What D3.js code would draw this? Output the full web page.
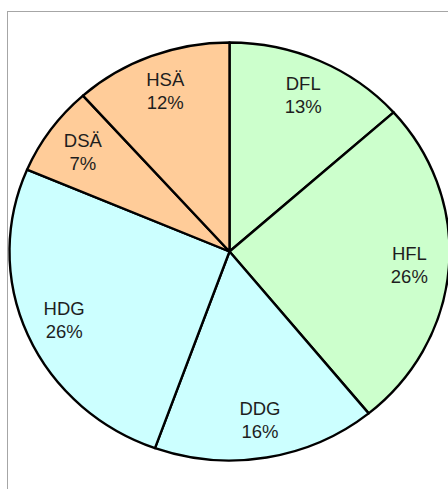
<!DOCTYPE html>
<html>
<head>
<meta charset="utf-8">
<script src="https://cdn.jsdelivr.net/npm/d3@7"></script>
<style>
  html, body { margin: 0; padding: 0; background: #ffffff; }
  svg { display: block; }
</style>
</head>
<body>
<svg id="chart" width="448" height="489"></svg>
<script>
const categories = ["DFL", "HFL", "DDG", "HDG", "DSÄ", "HSÄ"];
const values = [13.4, 25.7, 16.4, 25.9, 7.0, 11.6];
const labels = ["13%", "26%", "16%", "26%", "7%", "12%"];
const sliceColors = ["#ccffcc", "#ccffcc", "#ccffff", "#ccffff", "#ffcc99", "#ffcc99"];

const W = 448, H = 489;
const cx = 229.5, cy = 251.5;
const R = 209;          // vertical radius
const sx = 220 / 209;   // horizontal stretch (chart is slightly elliptical)

const svg = d3.select("#chart");

// frame
svg.append("rect")
  .attr("x", 7.5).attr("y", 11.5)
  .attr("width", W + 20).attr("height", H + 20)
  .attr("fill", "#ffffff")
  .attr("stroke", "#a6a6a6")
  .attr("stroke-width", 1);

const data = categories.map((c, i) => ({ cat: c, value: values[i], label: labels[i], color: sliceColors[i] }));

const pie = d3.pie().value(d => d.value).sort(null);
const arcs = pie(data);

const arc = d3.arc().innerRadius(0).outerRadius(R);
const labelArc = d3.arc().innerRadius(R * 0.82).outerRadius(R * 0.82);

const g = svg.append("g").attr("transform", `translate(${cx},${cy}) scale(${sx},1)`);

g.selectAll("path.slice")
  .data(arcs)
  .join("path")
  .attr("class", "slice")
  .attr("d", arc)
  .attr("fill", d => d.data.color)
  .attr("stroke", "#000000")
  .attr("stroke-width", 2.4)
  .attr("stroke-linejoin", "round")
  .attr("vector-effect", "non-scaling-stroke");

const lg = svg.append("g").attr("transform", `translate(${cx},${cy})`);
const texts = lg.selectAll("text.lbl")
  .data(arcs)
  .join("text")
  .attr("class", "lbl")
  .attr("transform", d => {
    const [x, y] = labelArc.centroid(d);
    return `translate(${x * sx},${y})`;
  })
  .attr("text-anchor", "middle")
  .attr("font-family", "Liberation Sans, Arial, sans-serif")
  .attr("font-size", 18.5)
  .attr("fill", "#1e1e1e");

texts.append("tspan").attr("x", 0).attr("y", -5).text(d => d.data.cat);
texts.append("tspan").attr("x", 0).attr("y", 18).text(d => d.data.label);
</script>
</body>
</html>
